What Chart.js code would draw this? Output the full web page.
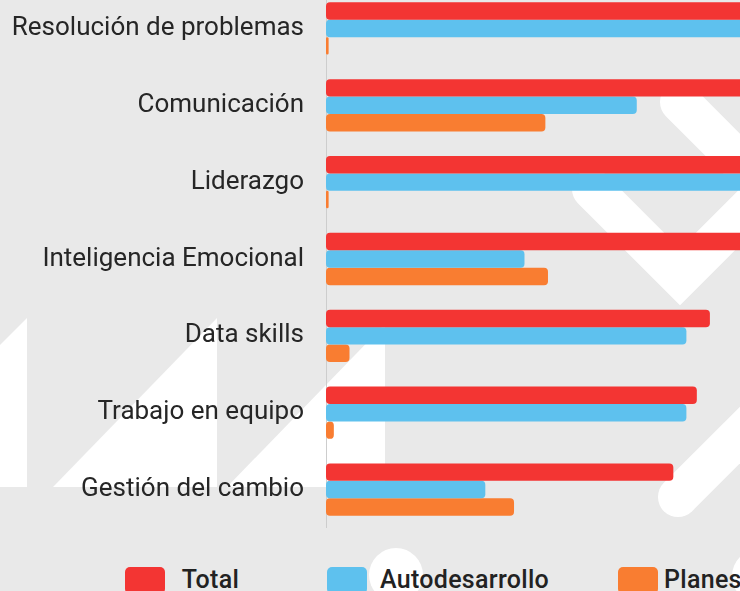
<!DOCTYPE html>
<html><head><meta charset="utf-8">
<script src="https://cdn.jsdelivr.net/npm/chart.js@4"></script>
<style>
html,body{margin:0;padding:0;width:740px;height:591px;overflow:hidden;background:#e9e9e9;}
#bg{position:absolute;left:0;top:0;}
#wrap{position:absolute;left:0;top:-10px;width:1005px;height:538px;}
.lg-box{position:absolute;top:567px;width:40px;height:27px;border-radius:5px;}
.lg-txt{position:absolute;top:567px;line-height:25px;font-family:Roboto,sans-serif;font-size:25px;font-weight:500;letter-spacing:0.3px;color:#222;white-space:nowrap;}
</style></head><body>
<svg id="bg" width="740" height="591" xmlns="http://www.w3.org/2000/svg">
  <g fill="#ffffff">
    <polygon points="0,345 27,318 27,487 0,487"/>
    <polygon points="53,487 217,318 217,487"/>
    <polygon points="227,487 385,324 385,487"/>
    <circle cx="396" cy="575" r="27"/>
    <circle cx="759" cy="576" r="27"/>
  </g>
  <g fill="none" stroke="#ffffff" stroke-width="40" stroke-linecap="round" stroke-linejoin="miter">
    <polyline points="592,189 680,277 800,157"/>
    <line x1="680" y1="102" x2="900" y2="322"/>
    <line x1="678" y1="497" x2="900" y2="275"/>
  </g>
</svg>
<div id="wrap"><canvas id="c"></canvas></div>
<div id="legend"></div>
<script>
const categories = ['Resolución de problemas','Comunicación','Liderazgo','Inteligencia Emocional','Data skills','Trabajo en equipo','Gestión del cambio'];
const seriesNames = ['Total','Autodesarrollo','Planes'];
const totalValues = [230,203,210,161,147,142,133];
const autodesarrolloValues = [229,119,209,76,138,138,61];
const planesValues = [1,84,1,85,9,3,72];

const colors = ['#f33533','#5ec1ee','#f97d31'];
const seriesValues = [totalValues, autodesarrolloValues, planesValues];

new Chart(document.getElementById('c'), {
  type: 'bar',
  data: {
    labels: categories,
    datasets: seriesNames.map((n, i) => ({
      label: n,
      data: seriesValues[i],
      backgroundColor: colors[i],
      borderRadius: 4,
      borderSkipped: false,
      barPercentage: 1,
      categoryPercentage: 0.68
    }))
  },
  options: {
    indexAxis: 'y',
    responsive: true,
    maintainAspectRatio: false,
    animation: false,
    layout: { padding: 0 },
    plugins: { legend: { display: false }, tooltip: { enabled: false } },
    scales: {
      x: { display: false, min: 0, max: 260 },
      y: {
        afterFit: s => { s.width = 326; s.paddingTop = 0; s.paddingBottom = 0; },
        grid: { display: false, drawTicks: false },
        border: { display: true, color: '#cdcdcd', width: 1 },
        ticks: { padding: 22, color: '#262626', font: { family: 'Roboto', size: 26 } }
      }
    }
  }
});

const legendPos = [[124.5, 181.7], [327, 380], [618, 664]];
const lg = document.getElementById('legend');
seriesNames.forEach((n, i) => {
  const b = document.createElement('div');
  b.className = 'lg-box';
  b.style.left = legendPos[i][0] + 'px';
  b.style.background = colors[i];
  lg.appendChild(b);
  const t = document.createElement('div');
  t.className = 'lg-txt';
  t.style.left = legendPos[i][1] + 'px';
  t.textContent = n;
  lg.appendChild(t);
});
</script>
</body></html>
